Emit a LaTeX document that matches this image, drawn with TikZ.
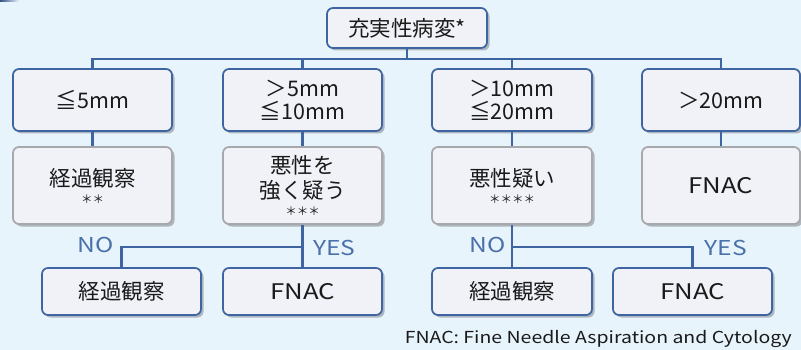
\documentclass[tikz,border=0pt]{standalone}
\usepackage{fontspec}
\usepackage{graphicx}
\setmainfont{Noto Sans CJK JP}
\usetikzlibrary{shadows}
\definecolor{bg}{HTML}{E8F4FC}
\definecolor{bblue}{HTML}{3E64A2}
\definecolor{bgray}{HTML}{A6A8AC}
\definecolor{bfill}{HTML}{F0F2F8}
\definecolor{lblue}{HTML}{4A70AA}
\definecolor{txt}{HTML}{1A1A1A}
\tikzset{
  base/.style={rounded corners=6pt, fill=bfill, line width=1.7pt, text=txt,
    align=center, inner sep=0pt,
    font=\fontsize{21.5}{24}\selectfont,
    drop shadow={shadow xshift=2.5pt, shadow yshift=-2.5pt, fill=black, opacity=0.25}},
  bluebox/.style={base, draw=bblue},
  graybox/.style={base, draw=bgray},
  conn/.style={draw=bblue, line width=2.2pt},
  lab/.style={text=lblue, font=\fontsize{20.5}{22}\selectfont, inner sep=0pt},
}
\newcommand{\myast}[1]{\\[-7pt]{\fontsize{11.5}{11.5}\selectfont #1}}
\newcommand{\wide}[1]{\scalebox{1.2}[1]{#1}}
\begin{document}
\begin{tikzpicture}[x=1pt,y=-1pt]
\fill[bg] (0,0) rectangle (801,350);
\useasboundingbox (0,0) rectangle (801,350);
\shade[left color=bblue!80!black, right color=bg] (0,0) rectangle (19,1.6);

\node[bluebox, minimum width=160pt, minimum height=40pt] (top) at (407,28) {充実性病変*};

\node[bluebox, minimum width=159pt, minimum height=62pt] (r1a) at (92.5,100) {≦5mm};
\node[bluebox, minimum width=159pt, minimum height=62pt] (r1b) at (302.5,100) {＞5mm\\[-1pt]≦10mm};
\node[bluebox, minimum width=160pt, minimum height=62pt] (r1c) at (512,100) {＞10mm\\[-1pt]≦20mm};
\node[bluebox, minimum width=158pt, minimum height=62pt] (r1d) at (721,100) {＞20mm};

\node[graybox, minimum width=159pt, minimum height=77pt] (r2a) at (92.5,185.5) {経過観察\myast{＊＊}};
\node[graybox, minimum width=159pt, minimum height=77pt] (r2b) at (302.5,185.5) {悪性を\\[1pt]強く疑う\myast{＊＊＊}};
\node[graybox, minimum width=160pt, minimum height=77pt] (r2c) at (512,185.5) {悪性疑い\myast{＊＊＊＊}};
\node[graybox, minimum width=158pt, minimum height=77pt] (r2d) at (721,185.5) {\wide{FNAC}};

\node[bluebox, minimum width=159pt, minimum height=47pt] (r3a) at (121.5,291.5) {経過観察};
\node[bluebox, minimum width=159pt, minimum height=47pt] (r3b) at (302.5,291.5) {\wide{FNAC}};
\node[bluebox, minimum width=160pt, minimum height=47pt] (r3c) at (512,291.5) {経過観察};
\node[bluebox, minimum width=159pt, minimum height=47pt] (r3d) at (692.5,291.5) {\wide{FNAC}};

\coordinate (bar) at (407,59);
\draw[conn] (top.south) -- (bar);
\draw[conn] (r1a.north) -- (r1a.north |- bar) -- (r1d.north |- bar) -- (r1d.north);
\draw[conn] (r1b.north) -- (r1b.north |- bar);
\draw[conn] (r1c.north) -- (r1c.north |- bar);

\draw[conn] (r1a) -- (r2a);
\draw[conn] (r1b) -- (r2b);
\draw[conn] (r1c) -- (r2c);
\draw[conn] (r1d) -- (r2d);

\coordinate (jl) at (302.5,247);
\coordinate (jr) at (512,247);
\draw[conn] (r2b) -- (r3b);
\draw[conn] (jl) -| (r3a.north);
\draw[conn] (r2c) -- (r3c);
\draw[conn] (jr) -| (r3d.north);

\node[lab] (nol) at (95.5,245) {\wide{NO}};
\node[lab] (yesl) at (334.5,248) {\wide{YES}};
\node[lab] (nor) at (487.5,245) {\wide{NO}};
\node[lab] (yesr) at (726,248) {\wide{YES}};

\node[anchor=east, inner sep=0pt, text=txt, font=\fontsize{16.5}{17}\selectfont] (foot) at (792,339) {\resizebox{387pt}{\height}{FNAC: Fine Needle Aspiration and Cytology}};
\end{tikzpicture}
\end{document}
